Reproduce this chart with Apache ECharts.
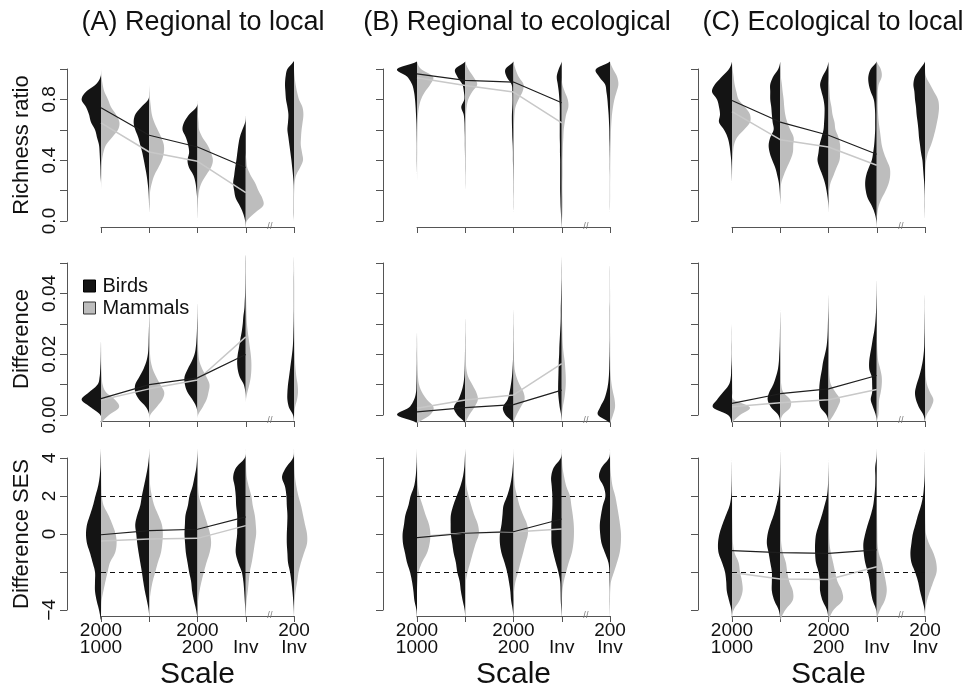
<!DOCTYPE html>
<html>
<head>
<meta charset="utf-8">
<title>Beanplots: birds vs mammals</title>
<script src="https://cdn.jsdelivr.net/npm/echarts@6/dist/echarts.min.js"></script>
<style>
  html, body { margin: 0; padding: 0; background: #fff; }
  #chart1 { width: 962px; height: 691px; }
</style>
</head>
<body>
<div id="chart1"></div>
<script>
var myChart = echarts.init(document.getElementById('chart1'));

// ---- labels ----
var panelTitles = ['(A) Regional to local', '(B) Regional to ecological', '(C) Ecological to local'];
var rowNames = ['Richness ratio', 'Difference', 'Difference SES'];
var scaleLabels = ['2000\n1000', '', '2000\n200', '\nInv', '200\nInv'];
var ratioTicks = ['0.0', '', '0.4', '', '0.8', ''];
var diffTicks = ['0.00', '', '0.02', '', '0.04', ''];
var sesTicks = ['\u22124', '', '0', '2', '4'];

// ---- density levels (y values where bean widths are read) ----
var ratioLevels = [-0.05, 0, 0.05, 0.1, 0.15, 0.2, 0.25, 0.3, 0.35, 0.4, 0.45, 0.5, 0.55, 0.6, 0.65, 0.7, 0.75, 0.8, 0.85, 0.9, 0.95, 1.0, 1.05];
var diffLevels = [-0.0025, 0, 0.0025, 0.005, 0.0075, 0.01, 0.0125, 0.015, 0.0175, 0.02, 0.0225, 0.025, 0.0275, 0.03, 0.0325, 0.035, 0.0375, 0.04, 0.0425, 0.045, 0.0475, 0.05, 0.0525];
var sesLevels = [-4.5, -4, -3.5, -3, -2.5, -2, -1.5, -1, -0.5, 0, 0.5, 1, 1.5, 2, 2.5, 3, 3.5, 4, 4.5];

// ---- bean densities, one row per scale group ----
var ratioBirdsA = [
  [0,0,0,0,0,0,0,0.2,0.3,0.5,0.7,1,2,3,5,6,7.5,9.7,7.5,2.5,0.2,0,0],
  [0,0,0,0.1,0.2,0.4,0.8,1.3,2,2.7,3.5,4.5,5.5,7,7.8,7,4,0.5,0,0,0,0,0],
  [0,0,0.05,0.1,0.2,0.5,1,2,4.2,5,4.2,4.7,5.8,7.5,6.7,4.2,0.5,0,0,0,0,0,0],
  [0,0.3,1.3,3,5,5.8,6.3,5.8,5.3,4.7,4.2,3.7,3,1.7,0.3,0,0,0,0,0,0,0,0],
  [0,0,0.1,0.1,0.1,0.1,0.2,0.5,0.9,1.3,1.8,2.3,2.8,3.3,3,2.8,3.3,4,4.3,4.5,4.2,3.3,0.3]
];
var ratioMammalsA = [
  [0,0,0,0,0,0,0.1,0.2,0.3,0.5,1.2,2.5,5.5,8.5,9.2,7.5,5,3.5,1.7,0.8,0.3,0,0],
  [0,0,0,0,0.2,0.5,1.3,2.5,4.5,6.3,7.3,7.3,6,4.2,2.5,1.3,0.8,0.4,0.2,0,0,0,0],
  [0,0,0,0,0.3,0.8,2,4.2,6.7,7.7,6.7,5,2.5,0.8,0.5,0.2,0,0,0,0,0,0,0],
  [0,0.5,4.2,8.7,8.3,6.3,4.7,2.5,0.8,0.3,0,0,0,0,0,0,0,0,0,0,0,0,0],
  [0,0,0,0,0,0.1,0.3,1,3,4.5,4,3.4,3.5,3.8,4.3,4.7,4.2,2.5,1.5,0.8,0.3,0,0]
];
var ratioBirdsB = [
  [0,0,0,0,0,0,0,0,0.05,0.1,0.1,0.1,0.15,0.2,0.3,0.5,0.7,1,1.5,2.5,5,10,0],
  [0,0,0,0,0,0,0.05,0.05,0.1,0.1,0.15,0.2,0.2,0.3,0.4,0.8,2,0.5,0.7,1.5,4,5,0],
  [0,0,0,0.05,0.05,0.1,0.1,0.15,0.2,0.3,0.3,0.4,0.6,0.7,0.8,0.8,0.6,0.5,0.6,1,3.5,4,0],
  [0,0.2,0.4,0.6,0.7,0.8,0.8,0.8,0.8,0.8,0.9,0.9,1,1,1,1,1,1.2,1.5,2,2.5,1.5,0],
  [0,0,0,0.05,0.05,0.05,0.05,0.05,0.1,0.1,0.15,0.2,0.3,0.35,0.5,0.7,1,1.3,1.8,2.5,5.5,7,0]
];
var ratioMammalsB = [
  [0,0,0,0,0,0,0,0.05,0.05,0.05,0.1,0.1,0.15,0.2,0.3,0.5,1,2,4,6.7,8,2,0],
  [0,0,0,0,0,0,0,0.05,0.1,0.1,0.1,0.15,0.15,0.2,0.3,0.4,0.7,1.5,3.5,6,4,1.5,0],
  [0,0,0,0.05,0.05,0.05,0.1,0.1,0.1,0.15,0.15,0.2,0.2,0.2,0.3,0.5,1,2.5,4.5,5,2.5,1,0],
  [0,0.1,0.3,0.4,0.4,0.3,0.3,0.4,0.4,0.4,0.5,0.6,0.8,1,1.5,2.2,3.3,3,1.5,0.3,0,0,0],
  [0,0,0,0,0.05,0.05,0.05,0.1,0.1,0.15,0.2,0.3,0.4,0.5,0.7,1,1.5,2.2,3.3,4.2,3.5,1.5,0]
];
var ratioBirdsC = [
  [0,0,0,0,0,0,0,0.1,0.2,0.4,0.8,1.3,2.2,4,6.5,6,6.5,7.5,10,8.5,5,1.5,0],
  [0,0,0,0,0.1,0.3,0.7,1.5,2.5,4,5.3,5.8,5,3.3,3.8,4.2,4.5,5,5,5,3.5,1,0],
  [0,0,0,0.1,0.4,1,1.8,3,4.5,5.5,5,4.5,3.5,2.5,2.2,2,2,2.5,3.5,4.2,3,1,0],
  [0,0.2,1,2.5,4.5,5.5,5.8,5.3,4,2.5,1.8,1.3,1,0.8,0.8,0.8,1,1.5,3,4,4.2,3,0],
  [0,0,0.05,0.1,0.1,0.2,0.4,0.7,1,1.3,2,2.5,3,3.3,3.7,4.2,4.5,5,5.3,5.8,5,2.5,0]
];
var ratioMammalsC = [
  [0,0,0,0,0,0,0,0,0.1,0.2,0.5,1,2.5,6,9,9,6.5,3.3,2.2,1.3,0.8,0.3,0],
  [0,0,0,0,0,0.2,0.5,1.7,3.3,5,6.3,6.5,6.7,5,3.5,2.5,2,1.7,1.2,0.8,0.3,0,0],
  [0,0,0,0,0,0.3,1,2.5,4,5.5,5.8,5.8,5,3.5,3,2,1.5,0.8,0.5,0.3,0,0,0],
  [0,0,0.3,1,2.5,4.5,6,6.7,6.5,5,3.5,2.5,2,1.5,1,0.7,0.5,0.5,0.5,1,2.5,2,0],
  [0,0,0,0,0,0,0,0.1,0.2,0.6,1.5,3,4.2,5.2,6,6.7,7,6.5,4.5,2.5,0.5,0,0]
];

var diffBirdsA = [
  [0,0.3,5,9.7,6,1.7,0.7,0.4,0.2,0.1,0.05,0,0,0,0,0,0,0,0,0,0,0,0],
  [0,0,1.5,5,7,7,5,3,1.5,0.7,0.4,0.3,0.2,0.1,0.05,0,0,0,0,0,0,0,0],
  [0,0,0.5,2.5,5,6.3,6.5,5,3,1.5,0.8,0.5,0.3,0.2,0.1,0.05,0,0,0,0,0,0,0],
  [0,0,0,0,0.2,1,3,4,4.3,4,3.3,2.7,2,1.5,1.2,0.7,0.5,0.3,0.2,0.15,0.1,0.1,0.05],
  [0,0.5,2.5,3.3,3.3,3,2.5,2,1.5,1,0.6,0.4,0.3,0.2,0.15,0.1,0.1,0.1,0.1,0.1,0.05,0.05,0]
];
var diffMammalsA = [
  [0.5,4,9,7,2.5,0.8,0.4,0.2,0.1,0.1,0.05,0,0,0,0,0,0,0,0,0,0,0,0],
  [0,0.5,3.5,6.5,7.5,5.5,3.5,1.8,0.8,0.4,0.3,0.2,0.15,0.1,0.05,0,0,0,0,0,0,0,0],
  [0,0.3,2.5,4.5,5.5,6,4.5,2.5,1,0.5,0.3,0.2,0.1,0.05,0,0,0,0,0,0,0,0,0],
  [0,0,0,0.1,0.8,1.8,2.5,2.8,2.8,2.5,2,1.5,1,0.6,0.4,0.3,0.2,0.1,0.1,0.1,0.1,0.1,0.05],
  [0,0.1,0.5,1.5,2,1.8,1.2,0.8,0.5,0.4,0.3,0.25,0.2,0.15,0.1,0.1,0.1,0.1,0.1,0.05,0.05,0,0]
];
var diffBirdsB = [
  [0.5,10,4,1.5,0.5,0.3,0.2,0.15,0.1,0.1,0.05,0.05,0,0,0,0,0,0,0,0,0,0,0],
  [0.3,4,5.7,3.5,2,1,0.5,0.3,0.2,0.15,0.1,0.1,0.05,0.05,0,0,0,0,0,0,0,0,0],
  [0.3,4,5.3,3,2,1.3,0.8,0.5,0.3,0.2,0.15,0.1,0.1,0.05,0.05,0,0,0,0,0,0,0,0],
  [0,0.3,1,1.5,1.8,1.8,1.7,1.6,1.5,1.3,1.2,1,0.8,0.6,0.5,0.5,0.4,0.3,0.2,0.1,0.1,0.05,0],
  [0.5,6,5,3,1.8,1,0.6,0.4,0.3,0.2,0.15,0.1,0.1,0.1,0.1,0.1,0.05,0.05,0.05,0.05,0.05,0,0]
];
var diffMammalsB = [
  [1,6.5,8.3,5,2.5,1,0.5,0.3,0.2,0.1,0.1,0.05,0,0,0,0,0,0,0,0,0,0,0],
  [0.3,2,4.5,6.3,5.5,3.5,1.5,0.6,0.3,0.2,0.1,0.1,0.05,0,0,0,0,0,0,0,0,0,0],
  [0,1.5,3.5,5.5,5,3,1.5,0.6,0.3,0.2,0.15,0.1,0.1,0.05,0,0,0,0,0,0,0,0,0],
  [0,0.1,0.5,1.2,1.7,2,2,1.8,1.5,1,0.6,0.4,0.3,0.2,0.1,0.1,0.1,0.1,0.1,0.05,0,0,0],
  [0.3,1.5,2.5,2.3,1.5,0.8,0.4,0.2,0.15,0.1,0.1,0.1,0.05,0.05,0.05,0.05,0.05,0.05,0,0,0,0,0]
];
var diffBirdsC = [
  [0.3,2,9.5,7.5,4.5,1.5,0.6,0.4,0.2,0.1,0.1,0.05,0.05,0,0,0,0,0,0,0,0,0,0],
  [0,1,4.5,6.3,5.5,3.5,2.2,1.2,0.7,0.5,0.3,0.2,0.15,0.1,0.05,0,0,0,0,0,0,0,0],
  [0,1,4,4.7,4.7,4.5,4,3.3,2.7,1.8,1,0.6,0.4,0.3,0.2,0.1,0.05,0,0,0,0,0,0],
  [0,0.5,1.8,3,2.3,2.3,2.5,3.7,3.8,3.3,2.6,2,1.3,0.8,0.5,0.3,0.2,0.1,0.05,0,0,0,0],
  [0,0.8,3,4.5,5,4.2,3,2,1.2,0.7,0.4,0.3,0.2,0.15,0.1,0.05,0.05,0,0,0,0,0,0]
];
var diffMammalsC = [
  [0.3,4,9,0.8,0.3,0.15,0.1,0.05,0,0,0,0,0,0,0,0,0,0,0,0,0,0,0],
  [0,1.2,5,5,1.5,0.5,0.3,0.2,0.1,0.05,0,0,0,0,0,0,0,0,0,0,0,0,0],
  [0.3,2.5,4.5,5.8,3.5,1.2,0.5,0.3,0.2,0.1,0,0,0,0,0,0,0,0,0,0,0,0,0],
  [0,0.8,1,1.2,2,2.5,2.5,1.8,0.8,0.4,0.2,0.1,0.05,0,0,0,0,0,0,0,0,0,0],
  [0,0.8,3,4.2,2.5,1,0.4,0.2,0.1,0.05,0,0,0,0,0,0,0,0,0,0,0,0,0]
];

var sesBirdsA = [
  [0.2,1,2.2,3,3,3,4.2,5.5,7,7.5,7,5.5,4,2.8,1.5,0.7,0.3,0.15,0],
  [0,0.3,1.2,2.2,3,3.7,4.5,5.3,6,6.5,7,6,4.5,3.7,2.7,1.7,0.8,0.2,0],
  [0,0.7,1.8,2.7,3.2,4.2,5,5.8,6.2,6.5,6.3,6,4.8,4,2.5,1.5,0.6,0.2,0],
  [0,0.2,0.5,0.8,1.2,2,3.8,5,4.8,4.3,4.3,4.3,4.8,5,5.5,6.3,4.8,0.5,0],
  [0,0.1,0.4,0.8,1.3,2,3,3.3,3.6,3.6,3.4,3.3,3.6,3.8,4.5,6,4,0.5,0]
];
var sesMammalsA = [
  [0,0.1,0.3,1.2,2.2,3.3,4.5,7,7.8,7.3,5.7,3.7,1.3,0.4,0.2,0.1,0.05,0,0],
  [0,0,0.2,0.8,1.7,3,4.3,5.8,6.5,6.8,6.3,4.5,2.5,1.3,0.5,0.2,0.1,0,0],
  [0,0,0.3,1,2,3.2,4.5,6,6.8,6.3,5,3.5,2,0.7,0.3,0.1,0,0,0],
  [0,0.1,0.4,1,1.5,2,3,3.8,4.5,5.2,5,4.5,3.5,2.8,1.5,0.5,0.2,0.1,0],
  [0,0.1,0.3,0.8,1.6,2.3,3.5,5,6.5,6.5,5.5,4.5,3.5,2.2,1.2,0.5,0.2,0.1,0]
];
var sesBirdsB = [
  [0,0.3,1.3,1.8,2.5,3.5,5,6,7,7.2,6.5,5.8,4.3,3.2,1.5,0.7,0.3,0.1,0],
  [0,0.3,1.3,2.2,2.8,4,4.7,5.8,6.5,7.2,7.3,7.2,6,4.3,2.5,1.2,0.5,0.2,0],
  [0,0.4,1.2,1.6,2.3,3.2,4.5,6,6.8,6.8,6,5.5,5,3.2,1.8,0.9,0.4,0.1,0],
  [0,0.2,0.5,0.6,0.8,1.7,3,4.2,5.1,5.2,5.2,4.9,4.7,4.7,5,5.3,4,0.5,0],
  [0,0.05,0.1,0.1,0.2,0.3,0.8,2.5,4.2,4.9,5.1,4.5,3.6,2.3,3.2,5.5,4.2,0.5,0]
];
var sesMammalsB = [
  [0,0,0,0,0.3,0.8,2.5,5,6.3,6.7,6,4.3,2.8,1.3,0.5,0.2,0.1,0,0],
  [0,0,0,0.1,0.3,1.2,2.5,3.8,5.2,6.8,6.3,4.5,3,1.7,0.6,0.2,0.1,0,0],
  [0,0,0,0.3,1,2.3,3.5,4.8,6,7.2,6.8,4.8,3,1.8,0.7,0.3,0.1,0,0],
  [0,0,0.1,0.3,1,2.2,3.5,5,5.8,6.1,6,5.5,4.8,4.1,2.3,1.2,0.4,0.1,0],
  [0,0,0,0.1,0.5,2,3.5,4.8,5.4,5.5,5,4.3,3.5,2.6,1.3,0.6,0.2,0.1,0]
];
var sesBirdsC = [
  [0,0.3,1.5,2.6,2.9,3.5,5,6.7,7,6.3,4.8,3,1.2,0.4,0.2,0.1,0.05,0,0],
  [0,0.8,3,4.2,4.2,4.2,5,5.8,6.7,6.3,5,3.3,2,0.9,0.4,0.2,0.1,0.05,0],
  [0,0.8,3,4.2,4.3,5,6.3,6.7,6.7,6.2,4.8,3.3,2,0.8,0.3,0.15,0.05,0,0],
  [0,0.3,2,3,3.5,4.5,5.8,6.5,6.7,5.8,4.5,3,1.8,1.2,0.8,0.7,0.8,0.2,0],
  [0,0.2,1.3,2.5,3.5,5,6.8,7.3,6.8,6.1,4.8,3.5,2,1,0.5,0.2,0.1,0.05,0]
];
var sesMammalsC = [
  [0,0.8,3.8,5.3,5,4,3.3,1.3,0.5,0.3,0.2,0.1,0.1,0.05,0,0,0,0,0],
  [0.3,2.5,6.2,6.3,4.5,3.5,2.8,1.3,0.5,0.3,0.2,0.1,0.05,0,0,0,0,0,0],
  [0.3,2.5,7,6.7,4.5,3.3,2.3,1.2,0.5,0.3,0.2,0.1,0.05,0,0,0,0,0,0],
  [0,1.6,4,5,4.5,3.5,2.5,1,0.4,0.3,0.2,0.15,0.1,0.1,0.1,0.05,0,0,0],
  [0,0.2,1,2.5,4.2,5.8,5.6,4.2,2,0.5,0.2,0.1,0.05,0,0,0,0,0,0]
];

// ---- medians of the first four groups, panels A, B, C ----
var ratioMedBirds = [[0.745, 0.564, 0.487, 0.352], [0.968, 0.925, 0.914, 0.778], [0.793, 0.651, 0.564, 0.439]];
var ratioMedMammals = [[0.645, 0.454, 0.393, 0.186], [0.942, 0.892, 0.848, 0.645], [0.72, 0.535, 0.487, 0.367]];
var diffMedBirds = [[0.0054, 0.0100, 0.0122, 0.0199], [0.0010, 0.0024, 0.0034, 0.0082], [0.0038, 0.0070, 0.0086, 0.0130]];
var diffMedMammals = [[0.0049, 0.0086, 0.0115, 0.0257], [0.0022, 0.0049, 0.0066, 0.0169], [0.0027, 0.0040, 0.0050, 0.0084]];
var sesMedBirds = [[-0.04, 0.18, 0.25, 0.9], [-0.19, 0.04, 0.12, 0.79], [-0.88, -0.98, -1.02, -0.84]];
var sesMedMammals = [[-0.37, -0.26, -0.23, 0.44], [-0.15, 0.05, 0.1, 0.26], [-2.03, -2.37, -2.39, -1.72]];
var sesRefLines = [-2, 2];

// ---- layout ----
var FONT = 'Liberation Sans, Arial, Helvetica, sans-serif';
var colLeft = [101, 417, 732];
var titleCenter = [198, 512, 828];
var rowTop = [69, 263, 458];
var plotW = 193, plotH = 152;
var rowMin = [0, 0, -4], rowMax = [1, 0.05, 4], rowStep = [0.2, 0.01, 2];
var rowTicks = [ratioTicks, diffTicks, sesTicks];
var rowLevels = [ratioLevels, diffLevels, sesLevels];
var rowBirds = [[ratioBirdsA, ratioBirdsB, ratioBirdsC], [diffBirdsA, diffBirdsB, diffBirdsC], [sesBirdsA, sesBirdsB, sesBirdsC]];
var rowMammals = [[ratioMammalsA, ratioMammalsB, ratioMammalsC], [diffMammalsA, diffMammalsB, diffMammalsC], [sesMammalsA, sesMammalsB, sesMammalsC]];
var rowMedBirds = [ratioMedBirds, diffMedBirds, sesMedBirds];
var rowMedMammals = [ratioMedMammals, diffMedMammals, sesMedMammals];
var beanScale = 2;
var birdColor = '#141414', mammalColor = '#bdbdbd';
var axisColor = '#555';

function catmull(p0, p1, p2, p3, t) {
  return 0.5 * (2 * p1 + (-p0 + p2) * t + (2 * p0 - 5 * p1 + 4 * p2 - p3) * t * t + (-p0 + 3 * p1 - 3 * p2 + p3) * t * t * t);
}

// one half bean per data item; side -1 draws to the left, +1 to the right
function beanRenderer(levels, dens, side, color) {
  return function (params, api) {
    var g = params.dataIndex;
    var d = dens[g];
    var lo = 0, hi = d.length - 1;
    while (lo < hi && d[lo] === 0 && d[lo + 1] === 0) lo++;
    while (hi > lo && d[hi] === 0 && d[hi - 1] === 0) hi--;
    var pts = [];
    for (var j = lo; j < hi; j++) {
      var w0 = d[Math.max(j - 1, lo)], w1 = d[j], w2 = d[j + 1], w3 = d[Math.min(j + 2, hi)];
      for (var s = 0; s < 6; s++) {
        var t = s / 6;
        var w = Math.max(catmull(w0, w1, w2, w3, t), 0);
        var c = api.coord([g + 1, levels[j] + (levels[j + 1] - levels[j]) * t]);
        pts.push([c[0] + side * w * beanScale, c[1]]);
      }
    }
    var top = api.coord([g + 1, levels[hi]]);
    var bot = api.coord([g + 1, levels[lo]]);
    pts.push([top[0] + side * d[hi] * beanScale, top[1]]);
    pts.push([top[0], top[1]]);
    pts.push([bot[0], bot[1]]);
    return { type: 'polygon', shape: { points: pts }, style: { fill: color } };
  };
}

// small "//" axis-break mark sitting on the offset x axis
function breakRenderer(offset) {
  return function (params, api) {
    var c = api.coord([api.value(0), api.value(1)]);
    return {
      type: 'text',
      style: { text: '//', x: c[0], y: c[1] + offset, align: 'center', verticalAlign: 'middle',
               fontSize: 9, fill: '#777', fontFamily: FONT }
    };
  };
}

var grids = [], xAxes = [], yAxes = [], series = [];
for (var r = 0; r < 3; r++) {
  for (var c = 0; c < 3; c++) {
    var p = r * 3 + c;
    grids.push({ left: colLeft[c], top: rowTop[r], width: plotW, height: plotH });
    xAxes.push({
      type: 'value', gridIndex: p, min: 1, max: 5, interval: 1, offset: 6,
      axisLine: { show: true, onZero: false, lineStyle: { color: axisColor, width: 1 } },
      axisTick: { show: true, length: 6, lineStyle: { color: axisColor } },
      splitLine: { show: false },
      axisLabel: {
        show: r === 2, fontSize: 19, lineHeight: 17, margin: 6, color: '#111', fontFamily: FONT,
        formatter: function (v) { return scaleLabels[Math.round(v) - 1]; }
      },
      name: r === 2 ? 'Scale' : '', nameLocation: 'middle', nameGap: 44,
      nameTextStyle: { fontSize: 30, color: '#111', fontFamily: FONT }
    });
    yAxes.push({
      type: 'value', gridIndex: p, min: rowMin[r], max: rowMax[r], interval: rowStep[r], offset: 34,
      axisLine: { show: true, onZero: false, lineStyle: { color: axisColor, width: 1 } },
      axisTick: { show: true, length: 7, lineStyle: { color: axisColor } },
      splitLine: { show: false },
      axisLabel: {
        show: c === 0, rotate: 90, fontSize: 19, margin: 8, color: '#111', fontFamily: FONT,
        formatter: (function (ticks) { return function (v, i) { return ticks[i] || ''; }; })(rowTicks[r])
      },
      name: c === 0 ? rowNames[r] : '', nameLocation: 'middle', nameRotate: 90, nameGap: 34,
      nameTextStyle: { fontSize: 22, color: '#111', fontFamily: FONT }
    });

    var slots = [[1, rowMin[r]], [2, rowMin[r]], [3, rowMin[r]], [4, rowMin[r]], [5, rowMin[r]]];
    series.push({
      name: 'Birds', type: 'custom', xAxisIndex: p, yAxisIndex: p, z: 2, silent: true,
      itemStyle: { color: birdColor },
      renderItem: beanRenderer(rowLevels[r], rowBirds[r][c], -1, birdColor),
      data: slots
    });
    series.push({
      name: 'Mammals', type: 'custom', xAxisIndex: p, yAxisIndex: p, z: 2, silent: true,
      itemStyle: { color: mammalColor },
      renderItem: beanRenderer(rowLevels[r], rowMammals[r][c], 1, mammalColor),
      data: slots
    });
    var mb = rowMedBirds[r][c], mm = rowMedMammals[r][c];
    series.push({
      name: 'Mammals median', type: 'line', xAxisIndex: p, yAxisIndex: p, z: 4, silent: true,
      symbol: 'none', lineStyle: { color: '#c8c8c8', width: 1.5 },
      data: mm.map(function (v, i) { return [i + 1, v]; })
    });
    var birdLine = {
      name: 'Birds median', type: 'line', xAxisIndex: p, yAxisIndex: p, z: 5, silent: true,
      symbol: 'none', lineStyle: { color: '#1e1e1e', width: 1.2 },
      data: mb.map(function (v, i) { return [i + 1, v]; })
    };
    if (r === 2) {
      birdLine.markLine = {
        silent: true, symbol: 'none', label: { show: false },
        lineStyle: { color: '#111', type: [5, 4], width: 1.2 },
        data: sesRefLines.map(function (v) { return [{ coord: [1, v] }, { coord: [5, v] }]; })
      };
    }
    series.push(birdLine);
    series.push({
      name: 'break', type: 'custom', xAxisIndex: p, yAxisIndex: p, z: 6, silent: true,
      renderItem: breakRenderer(6), data: [[4.5, rowMin[r]]]
    });
  }
}

var option = {
  animation: false,
  backgroundColor: '#fff',
  textStyle: { fontFamily: FONT },
  title: panelTitles.map(function (t, i) {
    return { text: t, left: titleCenter[i], top: 4, textAlign: 'center',
             textStyle: { fontSize: 27, fontWeight: 'normal', color: '#111', fontFamily: FONT } };
  }),
  legend: {
    data: [
      { name: 'Birds', itemStyle: { color: birdColor, borderColor: '#000', borderWidth: 1 } },
      { name: 'Mammals', itemStyle: { color: mammalColor, borderColor: '#333', borderWidth: 1 } }
    ],
    orient: 'vertical', left: 78, top: 271, icon: 'rect', itemWidth: 12, itemHeight: 12, itemGap: 2,
    selectedMode: false,
    textStyle: { fontSize: 20, color: '#111', padding: [0, 0, 0, 2], fontFamily: FONT }
  },
  grid: grids,
  xAxis: xAxes,
  yAxis: yAxes,
  series: series
};
myChart.setOption(option);
window.onresize = myChart.resize;
</script>
</body>
</html>
